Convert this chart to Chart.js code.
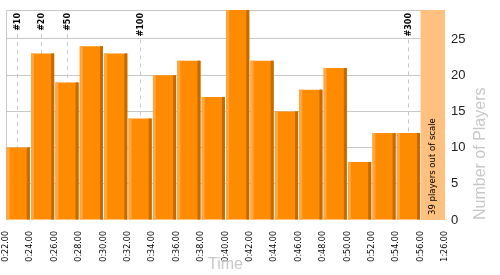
<!DOCTYPE html>
<html>
<head>
<meta charset="utf-8">
<script src="https://cdn.jsdelivr.net/npm/chart.js@4/dist/chart.umd.min.js"></script>
<style>
  html, body { margin: 0; padding: 0; background: #fff; }
  #wrap { width: 500px; height: 275px; }
</style>
</head>
<body>
<div id="wrap"><canvas id="chart"></canvas></div>
<script>
// bins are 2 minutes wide, x values are minutes (bin centres)
const binCenters = [23, 25, 27, 29, 31, 33, 35, 37, 39, 41, 43, 45, 47, 49, 51, 53, 55];
const playerCounts = [10, 23, 19, 24, 23, 14, 20, 22, 17, 29, 22, 15, 18, 21, 8, 12, 12];
const tickLabels = ["0:22.00", "0:24.00", "0:26.00", "0:28.00", "0:30.00", "0:32.00",
  "0:34.00", "0:36.00", "0:38.00", "0:40.00", "0:42.00", "0:44.00", "0:46.00",
  "0:48.00", "0:50.00", "0:52.00", "0:54.00", "0:56.00", "1:26.00"];
const markerLabels = ["#10", "#20", "#50", "#100", "#300"];
const markerTimes = [22.93, 24.9, 27.0, 33.0, 55.0];
const outOfScaleText = "39 players out of scale";
const outOfScaleRange = [56, 58];

const gridColor = "#c8c8c8";

// frame, dashed rank markers
const backgroundPlugin = {
  id: "background",
  beforeDatasetsDraw(chart) {
    const { ctx, chartArea: a, scales: { x } } = chart;
    ctx.save();
    ctx.strokeStyle = gridColor;
    ctx.lineWidth = 1;
    ctx.beginPath();
    ctx.moveTo(a.left + 0.5, a.bottom);
    ctx.lineTo(a.left + 0.5, a.top + 0.5);
    ctx.lineTo(a.right, a.top + 0.5);
    ctx.stroke();

    ctx.font = "bold 8px 'DejaVu Sans'";
    ctx.textBaseline = "middle";
    markerTimes.forEach((t, i) => {
      const px = Math.round(x.getPixelForValue(t)) + 0.5;
      const w = ctx.measureText(markerLabels[i]).width;
      ctx.save();
      ctx.setLineDash([4, 4]);
      ctx.beginPath();
      ctx.moveTo(px, a.top + 6 + w);
      ctx.lineTo(px, a.bottom);
      ctx.stroke();
      ctx.restore();
      ctx.save();
      ctx.translate(px, a.top + 3);
      ctx.rotate(-Math.PI / 2);
      ctx.fillStyle = "#000";
      ctx.textAlign = "right";
      ctx.fillText(markerLabels[i], 0, 0);
      ctx.restore();
    });
    ctx.restore();
  },
  afterDatasetsDraw(chart) {
    const { ctx, chartArea: a, scales: { x } } = chart;
    ctx.save();
    // bar shading strips
    chart.getDatasetMeta(0).data.forEach((bar) => {
      const left = bar.x - bar.width / 2;
      const right = bar.x + bar.width / 2;
      const h = bar.base - bar.y;
      ctx.fillStyle = "#ffa640";
      ctx.fillRect(left, bar.y, 3, h);
      ctx.fillStyle = "#c46a00";
      ctx.fillRect(right - 3, bar.y, 3, h);
    });
    // out of scale column
    const x0 = x.getPixelForValue(outOfScaleRange[0]);
    const x1 = x.getPixelForValue(outOfScaleRange[1]);
    ctx.fillStyle = "#ffc080";
    ctx.fillRect(x0, a.top, x1 - x0, a.bottom - a.top);
    ctx.translate((x0 + x1) / 2, a.bottom - 5);
    ctx.rotate(-Math.PI / 2);
    ctx.fillStyle = "#000";
    ctx.font = "8.5px 'DejaVu Sans'";
    ctx.textAlign = "left";
    ctx.textBaseline = "middle";
    ctx.fillText(outOfScaleText, 0, 0);
    ctx.restore();
  },
  afterDraw(chart) {
    const { ctx, chartArea: a } = chart;
    ctx.save();
    ctx.fillStyle = "#c8c8c8";
    ctx.font = "16px 'Liberation Sans'";
    ctx.textBaseline = "middle";
    ctx.textAlign = "center";
    ctx.fillText("Time", (a.left + a.right) / 2, 265);
    ctx.translate(481, a.bottom);
    ctx.rotate(-Math.PI / 2);
    ctx.textAlign = "left";
    ctx.fillText("Number of Players", 0, 0);
    ctx.restore();
  }
};

new Chart(document.getElementById("chart"), {
  type: "bar",
  data: {
    datasets: [{
      data: binCenters.map((c, i) => ({ x: c, y: playerCounts[i] })),
      backgroundColor: "#ff8c00",
      borderWidth: 0,
      barPercentage: 0.95,
      categoryPercentage: 1.0
    }]
  },
  options: {
    responsive: true,
    maintainAspectRatio: false,
    animation: false,
    layout: { padding: { left: 6, top: 10, right: 0, bottom: 0 } },
    plugins: { legend: { display: false }, tooltip: { enabled: false } },
    scales: {
      x: {
        type: "linear",
        min: 22,
        max: 58,
        offset: false,
        afterFit: (s) => { s.height = 55; s.paddingLeft = 0; s.paddingRight = 0; },
        afterBuildTicks: (s) => {
          s.ticks = tickLabels.map((_, i) => ({ value: 22 + i * 2 }));
        },
        grid: { display: false },
        border: { display: false },
        ticks: {
          autoSkip: false,
          minRotation: 90,
          maxRotation: 90,
          padding: 3,
          color: "#000",
          font: { family: "DejaVu Sans", size: 8 },
          callback: (v) => tickLabels[Math.round((v - 22) / 2)]
        }
      },
      y: {
        position: "right",
        min: 0,
        max: 29,
        afterFit: (s) => { s.width = 55; s.paddingTop = 0; s.paddingBottom = 0; },
        grid: {
          drawTicks: false,
          color: (c) => (c.tick.value === 0 ? "rgba(0,0,0,0)" : gridColor)
        },
        border: { display: false },
        ticks: {
          stepSize: 5,
          includeBounds: false,
          padding: 6,
          color: "#222",
          font: { family: "Liberation Sans", size: 13 }
        }
      }
    }
  },
  plugins: [backgroundPlugin]
});
</script>
</body>
</html>
